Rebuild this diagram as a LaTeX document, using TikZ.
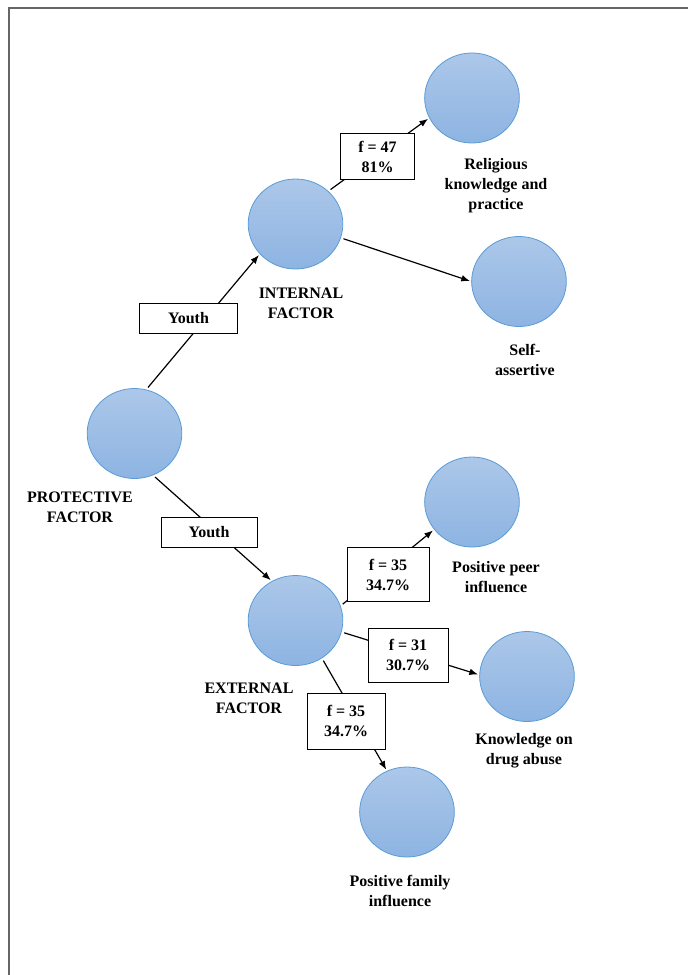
\documentclass[tikz,border=0pt]{standalone}
\usepackage{fontspec}
\setmainfont{Liberation Serif}
\usepackage{tikz}
\usetikzlibrary{arrows.meta,shapes.geometric}
\definecolor{bubtop}{RGB}{172,199,233}
\definecolor{bubbot}{RGB}{141,180,226}
\definecolor{bubedge}{RGB}{91,155,213}

\begin{document}
\begin{tikzpicture}[x=0.75pt,y=-0.75pt,>={Latex[length=6.5pt,width=5pt]}, every node/.style={align=center,font=\fontsize{12}{15}\selectfont\bfseries},
  bubble/.style={ellipse,draw=bubedge,line width=0.6pt,top color=bubtop,bottom color=bubbot,minimum width=71pt,minimum height=67.5pt,inner sep=0pt},
  tag/.style={draw,fill=white,line width=0.75pt,inner sep=0pt},
  link/.style={->,line width=0.9pt,shorten <=2pt,shorten >=1pt}]
\useasboundingbox (0,0) rectangle (688,975);
\draw[line width=1.5pt,black!60] (8.5,975) -- (8.5,7.5) -- (688,7.5);
% circles
\node[bubble] (prot) at (134.5,433.5) {};
\node[bubble] (int) at (295.5,224) {};
\node[bubble] (relig) at (472,98) {};
\node[bubble] (self) at (519,281.5) {};
\node[bubble] (ext) at (295.5,620.5) {};
\node[bubble] (peer) at (472,502) {};
\node[bubble] (drug) at (527,676.5) {};
\node[bubble] (fam) at (407,812) {};
% captions
\node (protlbl) at (80,507) {PROTECTIVE\\FACTOR};
\node (intlbl) at (301,303.5) {INTERNAL\\FACTOR};
\node (extlbl) at (249,698) {EXTERNAL\\FACTOR};
\node (religlbl) at (496,185.5) {Religious\\knowledge and\\practice};
\node (selflbl) at (525,359.5) {Self-\\assertive};
\node (peerlbl) at (496,577) {Positive peer\\influence};
\node (druglbl) at (524,751) {Knowledge on\\drug abuse};
\node (famlbl) at (400,891) {Positive family\\influence};
% connectors
\draw[link] (prot.75) -- (int.220);
\draw[link] (prot.-66) -- (ext.121);
\draw[link] (int.45) -- (relig.205);
\draw[link] (int.-17) -- (self.180);
\draw[link] (ext.18) -- (peer.216);
\draw[link] (ext.-14) -- (drug.178);
\draw[link] (ext.-55) -- (fam.116);
% boxes on the connectors
\node[tag,minimum width=73pt,minimum height=22.5pt] (youth1) at (188.5,318.5) {Youth};
\node[tag,minimum width=72pt,minimum height=23pt] (youth2) at (209,532.5) {Youth};
\node[tag,minimum width=56pt,minimum height=34pt] (f47) at (377.5,156.5) {f = 47\\81\%};
\node[tag,minimum width=61.5pt,minimum height=40pt] (f35a) at (388,574.5) {f = 35\\34.7\%};
\node[tag,minimum width=60pt,minimum height=40.5pt] (f31) at (408,655) {f = 31\\30.7\%};
\node[tag,minimum width=58.5pt,minimum height=42pt] (f35b) at (346,721) {f = 35\\34.7\%};
\end{tikzpicture}
\end{document}
